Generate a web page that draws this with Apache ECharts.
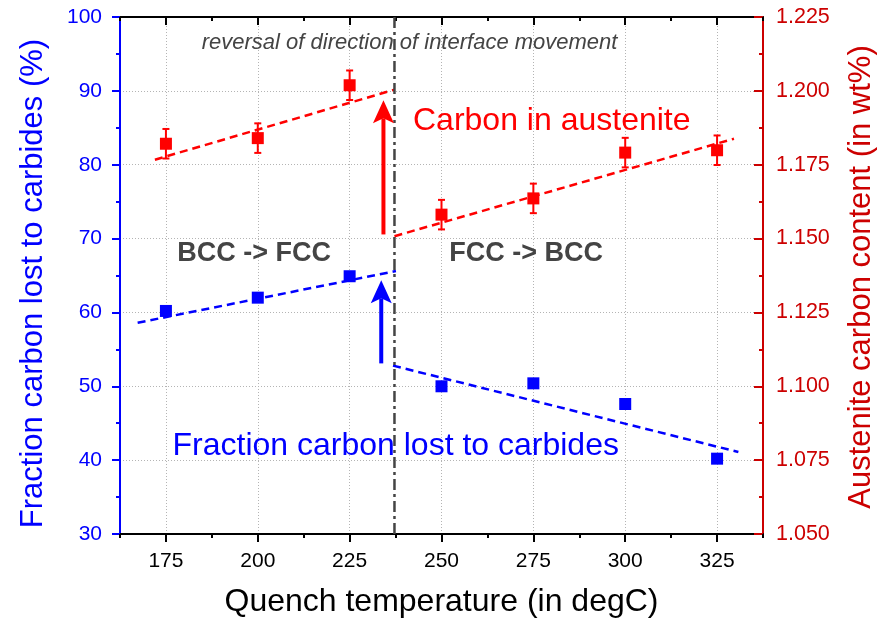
<!DOCTYPE html>
<html>
<head>
<meta charset="utf-8">
<script src="https://cdn.jsdelivr.net/npm/echarts@6/dist/echarts.min.js"></script>
<style>
  html, body { margin: 0; padding: 0; background: #ffffff; }
  #chart { width: 882px; height: 623px; }
</style>
</head>
<body>
<div id="chart"></div>
<script>
// Quench temperatures (degC)
const temps = [175, 200, 225, 250, 275, 300, 325];
// Fraction of carbon lost to carbides (%), left axis
const carbonLost = [60.2, 62.0, 64.9, 50.0, 50.4, 47.6, 40.2];
// Austenite carbon content (wt%), right axis, with error half-widths
const austeniteC = [1.1821, 1.1840, 1.2019, 1.1581, 1.1636, 1.1791, 1.1799];
const austeniteErr = [0.005, 0.005, 0.005, 0.005, 0.005, 0.005, 0.005];

// Linear trend segments either side of the reversal temperature
const lostTrendLow = [[167.3, 58.6], [237.6, 65.6]];
const lostTrendHigh = [[236.8, 52.8], [330.8, 41.1]];
const austTrendLow = [[172.0, 1.1767], [237.2, 1.2004]];
const austTrendHigh = [[237.2, 1.1508], [329.6, 1.1838]];

// Temperature where the interface movement reverses
const reversalTemp = 237.2;
// Jump arrows: [temperature, from, to]
const austJump = [[234.2, 1.1514, 1.1968]];
const lostJump = [[233.6, 53.1, 64.35]];

// Axis tick labels
const xTicks = [175, 200, 225, 250, 275, 300, 325];

const FONT = '"Liberation Sans", Arial, Helvetica, sans-serif';
const BLUE = '#0000ff';
const RED = '#ff0000';
const DARKRED = '#cc0000';
const GRAY = '#444444';

const chart = echarts.init(document.getElementById('chart'), null, { renderer: 'canvas' });

const xBase = {
  type: 'value', min: 162.5, max: 337.5, interval: 12.5,
  axisLine: { show: true, onZero: false, lineStyle: { color: '#000', width: 2 } },
  splitLine: { show: false },
  axisLabel: { show: false }
};

function arrowItem(color) {
  return function (params, api) {
    const x = api.value(0);
    const p0 = api.coord([x, api.value(1)]);
    const p1 = api.coord([x, api.value(2)]);
    const headLen = 23, headW = 21, notch = 5;
    return {
      type: 'group',
      children: [
        { type: 'line', shape: { x1: p0[0], y1: p0[1], x2: p1[0], y2: p1[1] + headLen - notch },
          style: { stroke: color, lineWidth: 4 } },
        { type: 'polygon', shape: { points: [
            [p1[0], p1[1]],
            [p1[0] - headW / 2, p1[1] + headLen],
            [p1[0], p1[1] + headLen - notch],
            [p1[0] + headW / 2, p1[1] + headLen]
          ] }, style: { fill: color } }
      ]
    };
  };
}

const errData = temps.map((t, i) => [t, austeniteC[i] - austeniteErr[i], austeniteC[i] + austeniteErr[i]]);

const option = {
  backgroundColor: '#ffffff',
  animation: false,
  textStyle: { fontFamily: FONT },
  grid: { left: 120, right: 119, top: 17, bottom: 89, containLabel: false },
  xAxis: [
    Object.assign({}, xBase, {
      position: 'bottom',
      axisTick: { show: true, inside: false, length: 8, customValues: xTicks,
        lineStyle: { color: '#000', width: 2 } },
      axisLabel: { show: true, customValues: xTicks, margin: 17, color: '#000',
        fontSize: 21, fontFamily: FONT },
      splitLine: { show: true, lineStyle: { color: '#b4b4b4', width: 1, type: [1, 2] } }
    }),
    Object.assign({}, xBase, {
      position: 'bottom',
      axisLine: { show: false },
      axisTick: { show: true, inside: false, length: 4, lineStyle: { color: '#000', width: 2 } }
    }),
    Object.assign({}, xBase, {
      position: 'top',
      axisTick: { show: true, inside: true, length: 8, customValues: xTicks,
        lineStyle: { color: '#000', width: 2 } }
    }),
    Object.assign({}, xBase, {
      position: 'top',
      axisLine: { show: false },
      axisTick: { show: true, inside: true, length: 4, lineStyle: { color: '#000', width: 2 } }
    })
  ],
  yAxis: [
    {
      type: 'value', position: 'left', min: 30, max: 100, interval: 10,
      axisLine: { show: true, onZero: false, lineStyle: { color: BLUE, width: 2 } },
      axisTick: { show: true, inside: false, length: 8, lineStyle: { color: BLUE, width: 2 } },
      minorTick: { show: true, splitNumber: 2, length: 4, lineStyle: { color: BLUE, width: 2 } },
      axisLabel: { color: BLUE, fontSize: 21, margin: 18, fontFamily: FONT },
      splitLine: { show: true, lineStyle: { color: '#b4b4b4', width: 1, type: [1, 2] } }
    },
    {
      type: 'value', position: 'right', min: 1.05, max: 1.225, interval: 0.025,
      axisLine: { show: true, onZero: false, lineStyle: { color: DARKRED, width: 2 } },
      axisTick: { show: true, inside: true, length: 9, lineStyle: { color: DARKRED, width: 2 } },
      minorTick: { show: true, splitNumber: 2, length: 4, lineStyle: { color: DARKRED, width: 2 } },
      axisLabel: { color: DARKRED, fontSize: 21.5, margin: 13, fontFamily: FONT,
        formatter: v => v.toFixed(3) },
      splitLine: { show: false }
    }
  ],
  series: [
    {
      name: 'Carbon lost trend (low)', type: 'line', xAxisIndex: 0, yAxisIndex: 0,
      data: lostTrendLow, symbol: 'none', z: 3,
      lineStyle: { color: BLUE, width: 2.5, type: [8, 5] }
    },
    {
      name: 'Carbon lost trend (high)', type: 'line', xAxisIndex: 0, yAxisIndex: 0,
      data: lostTrendHigh, symbol: 'none', z: 3,
      lineStyle: { color: BLUE, width: 2.5, type: [8, 5] }
    },
    {
      name: 'Austenite trend (low)', type: 'line', xAxisIndex: 0, yAxisIndex: 1,
      data: austTrendLow, symbol: 'none', z: 3,
      lineStyle: { color: RED, width: 2.5, type: [8, 5] }
    },
    {
      name: 'Austenite trend (high)', type: 'line', xAxisIndex: 0, yAxisIndex: 1,
      data: austTrendHigh, symbol: 'none', z: 3,
      lineStyle: { color: RED, width: 2.5, type: [8, 5] }
    },
    {
      name: 'Reversal', type: 'line', xAxisIndex: 0, yAxisIndex: 0,
      data: [[reversalTemp, 30], [reversalTemp, 100]], symbol: 'none', z: 4,
      lineStyle: { color: GRAY, width: 2.5, type: [11, 4, 3, 4] }
    },
    {
      name: 'Austenite error', type: 'custom', xAxisIndex: 0, yAxisIndex: 1, z: 5,
      data: errData,
      encode: { x: 0, y: [1, 2] },
      renderItem: function (params, api) {
        const x = api.value(0);
        const pLo = api.coord([x, api.value(1)]);
        const pHi = api.coord([x, api.value(2)]);
        const cap = 3.5;
        const st = { stroke: RED, lineWidth: 2 };
        return {
          type: 'group',
          children: [
            { type: 'line', shape: { x1: pLo[0], y1: pLo[1], x2: pHi[0], y2: pHi[1] }, style: st },
            { type: 'line', shape: { x1: pLo[0] - cap, y1: pLo[1], x2: pLo[0] + cap, y2: pLo[1] }, style: st },
            { type: 'line', shape: { x1: pHi[0] - cap, y1: pHi[1], x2: pHi[0] + cap, y2: pHi[1] }, style: st }
          ]
        };
      }
    },
    {
      name: 'Austenite carbon', type: 'scatter', xAxisIndex: 0, yAxisIndex: 1, z: 6,
      data: temps.map((t, i) => [t, austeniteC[i]]),
      symbol: 'rect', symbolSize: 12, itemStyle: { color: RED, opacity: 1 }
    },
    {
      name: 'Carbon lost', type: 'scatter', xAxisIndex: 0, yAxisIndex: 0, z: 6,
      data: temps.map((t, i) => [t, carbonLost[i]]),
      symbol: 'rect', symbolSize: 12, itemStyle: { color: BLUE, opacity: 1 }
    },
    {
      name: 'Austenite jump', type: 'custom', xAxisIndex: 0, yAxisIndex: 1, z: 7,
      data: austJump, encode: { x: 0, y: [1, 2] },
      renderItem: arrowItem(RED)
    },
    {
      name: 'Carbon lost jump', type: 'custom', xAxisIndex: 0, yAxisIndex: 0, z: 7,
      data: lostJump, encode: { x: 0, y: [1, 2] },
      renderItem: arrowItem(BLUE)
    }
  ],
  graphic: [
    { type: 'text', x: 201.7, y: 42.7, z: 10,
      style: { text: 'reversal of direction of interface movement', fill: GRAY,
        font: 'italic 22px ' + FONT, align: 'left', verticalAlign: 'middle' } },
    { type: 'text', x: 413, y: 121, z: 10,
      style: { text: 'Carbon in austenite', fill: RED,
        font: '32px ' + FONT, align: 'left', verticalAlign: 'middle' } },
    { type: 'text', x: 177.3, y: 254, z: 10,
      style: { text: 'BCC -> FCC', fill: GRAY,
        font: 'bold 27px ' + FONT, align: 'left', verticalAlign: 'middle' } },
    { type: 'text', x: 449.3, y: 254, z: 10,
      style: { text: 'FCC -> BCC', fill: GRAY,
        font: 'bold 27px ' + FONT, align: 'left', verticalAlign: 'middle' } },
    { type: 'text', x: 172.5, y: 446, z: 10,
      style: { text: 'Fraction carbon lost to carbides', fill: BLUE,
        font: '32px ' + FONT, align: 'left', verticalAlign: 'middle' } },
    { type: 'text', x: 441.5, y: 602.5, z: 10,
      style: { text: 'Quench temperature (in degC)', fill: '#000',
        font: '32px ' + FONT, align: 'center', verticalAlign: 'middle' } },
    { type: 'text', x: 33, y: 283.5, rotation: Math.PI / 2, z: 10,
      style: { text: 'Fraction carbon lost to carbides (%)', fill: BLUE,
        font: '31px ' + FONT, align: 'center', verticalAlign: 'middle' } },
    { type: 'text', x: 861, y: 277, rotation: Math.PI / 2, z: 10,
      style: { text: 'Austenite carbon content (in wt%)', fill: DARKRED,
        font: '31px ' + FONT, align: 'center', verticalAlign: 'middle' } }
  ]
};

chart.setOption(option);
</script>
</body>
</html>
